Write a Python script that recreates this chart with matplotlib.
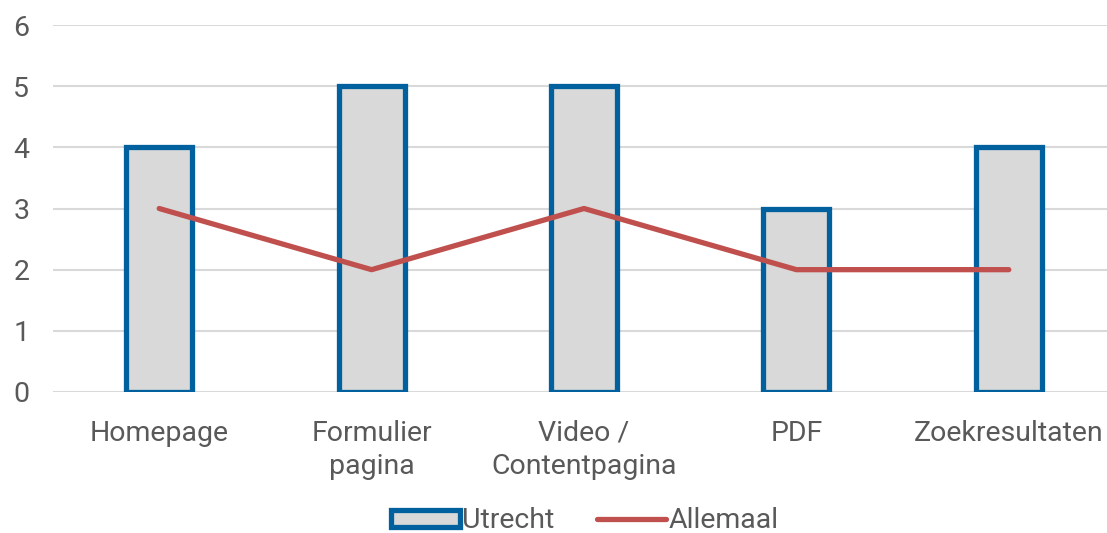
import matplotlib.pyplot as plt
import numpy as np

categories = ['Homepage', 'Formulier\npagina', 'Video /\nContentpagina', 'PDF', 'Zoekresultaten']
utrecht = [4, 5, 5, 3, 4]
allemaal = [3, 2, 3, 2, 2]

plt.rcParams['font.family'] = ['Roboto', 'DejaVu Sans']
tekst = '#595959'

fig = plt.figure(figsize=(11.07, 5.33), dpi=100)
ax = fig.add_axes([53 / 1107, (533 - 392) / 533, 1062 / 1107, 367 / 533])

x = np.arange(len(categories))
staaf = ax.bar(x, utrecht, width=0.31, color='#D9D9D9', edgecolor='#00619E', linewidth=3.8,
               label='Utrecht', zorder=2)
lijn, = ax.plot(x, allemaal, color='#C0504D', linewidth=3.8, solid_capstyle='round',
                label='Allemaal', zorder=3)

ax.set_xlim(-0.5, 4.5)
ax.set_ylim(0, 6)
ax.set_yticks(range(0, 7))
ax.set_xticks(x)
ax.set_xticklabels(categories, fontsize=20.5, color=tekst, linespacing=1.3)
ax.tick_params(axis='y', labelsize=20.5, colors=tekst, length=0, pad=17)
ax.tick_params(axis='x', length=0, pad=20)
ax.yaxis.grid(True, color='#D9D9D9', linewidth=1.5, zorder=0)
ax.set_axisbelow(True)
for s in ax.spines.values():
    s.set_visible(False)

leg = fig.legend([staaf, lijn], ['Utrecht', 'Allemaal'], loc='center',
                 bbox_to_anchor=(585 / 1107, 1 - 521 / 533), ncol=2,
                 frameon=False, fontsize=20.5, handlelength=2.4, handleheight=0.55,
                 handletextpad=0.1, columnspacing=1.5)
for t in leg.get_texts():
    t.set_color(tekst)

fig.savefig('out.png', dpi=100)
